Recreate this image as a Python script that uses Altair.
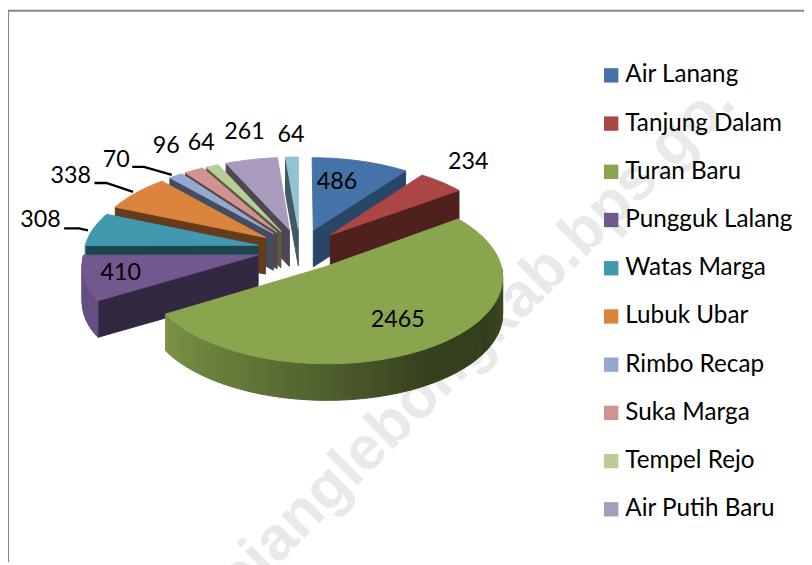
import numpy as np
import pandas as pd
import altair as alt

names = ["Air Lanang", "Tanjung Dalam", "Turan Baru", "Pungguk Lalang", "Watas Marga", "Lubuk Ubar",
         "Rimbo Recap", "Suka Marga", "Tempel Rejo", "Air Putih Baru", "Lainnya"]
values = [486, 234, 2465, 410, 308, 338, 70, 96, 64, 261, 64]
colors = ["#4572A7", "#AA4643", "#89A54E", "#71588F", "#4198AF", "#DB843D",
          "#93A9CF", "#D19392", "#B9CD96", "#A99BBD", "#92C3D5"]

W, H = 804, 557
CX, CY, RX, RY, PERSP, EXPL, DEPTH = 295, 241, 175, 84, 0.10, 0.25, 37


def project(x, y):
    p = 1 / (1 + PERSP * y)
    return CX + RX * x * p, CY - RY * y * p


def shade(col, f):
    r, g, b = [int(col[i:i + 2], 16) for i in (1, 3, 5)]
    return "#%02x%02x%02x" % (int(r * f), int(g * f), int(b * f))


def feature(points, fill):
    ring = [[float(a), float(b)] for a, b in points]
    ring.append(ring[0])
    return {"type": "Feature", "geometry": {"type": "Polygon", "coordinates": [ring]},
            "properties": {"fill": fill}}


total = sum(values)
edges = np.concatenate([[0], np.cumsum(values)]) / total * 360
mids = (edges[:-1] + edges[1:]) / 2
features = []
for i in sorted(range(len(values)), key=lambda k: -np.cos(np.radians(mids[k]))):
    t1, t2, m = edges[i], edges[i + 1], np.radians(mids[i])
    ox, oy = EXPL * np.sin(m), EXPL * np.cos(m)
    tip = project(ox, oy)
    rim = lambda d: project(ox + np.sin(np.radians(d)), oy + np.cos(np.radians(d)))
    down = lambda q: (q[0], q[1] + DEPTH)
    wall = shade(colors[i], 0.62 if i == 0 else 0.46)
    for d, normal in ((t1, t1 - 90), (t2, t2 + 90)):
        if np.cos(np.radians(normal)) < 0:
            q = rim(d)
            features.append(feature([tip, q, down(q), down(tip)], wall))
    a, b = max(t1, 90), min(t2, 270)
    if a < b:
        steps = np.linspace(a, b, max(2, int((b - a) / 1.5) + 1))
        for s, e in zip(steps[:-1], steps[1:]):
            f = np.interp((s + e) / 2, [90, 120, 150, 180, 210, 240, 270], [.50, .38, .40, .58, .75, .90, .92])
            features.append(feature([rim(s), rim(e), down(rim(e)), down(rim(s))], shade(colors[i], f)))
    arc = [rim(d) for d in np.linspace(t1, t2, max(3, int(t2 - t1) + 2))]
    features.append(feature([tip] + arc, colors[i]))

pie = alt.Chart(alt.Data(values=features)).mark_geoshape(strokeWidth=1).encode(
    fill=alt.Fill("properties.fill:N", scale=None),
    stroke=alt.Stroke("properties.fill:N", scale=None),
).project(type="identity", scale=1, translate=[0, 0])

sx = alt.Scale(domain=[0, W], range=[0, W])
sy = alt.Scale(domain=[0, H], range=[0, H])

# label placements relative to each slice's outer rim midpoint
label_offsets = [(-24, 21), (27, -20), (-36, -26), (37, -5), (-53, -9), (-66, -17),
                 (-60, -16), (-28, -24), (-11, -23), (-7, -28), (-1, -22)]
leaders = {4: ((24, 8), (39, 8), (-5, 1)), 5: ((24, 7), (36, 7), (-3, -1)), 6: ((16, 7), (28, 7), (-4, -1))}

rows, lines = [], []
for i, v in enumerate(values):
    m = np.radians(mids[i])
    rx_, ry_ = project((1 + EXPL) * np.sin(m), (1 + EXPL) * np.cos(m))
    lx, ly = rx_ + label_offsets[i][0], ry_ + label_offsets[i][1]
    rows.append({"x": lx, "y": ly, "t": str(v)})
    if i in leaders:
        a, b, c = leaders[i]
        for o, pt in enumerate([(lx + a[0], ly + a[1]), (lx + b[0], ly + b[1]), (rx_ + c[0], ry_ + c[1])]):
            lines.append({"x": pt[0], "y": pt[1], "o": o, "s": i})

labels = alt.Chart(pd.DataFrame(rows)).mark_text(font="Lato", fontSize=23.5, color="black").encode(
    x=alt.X("x:Q", scale=sx, axis=None), y=alt.Y("y:Q", scale=sy, axis=None), text="t:N")
leader = alt.Chart(pd.DataFrame(lines)).mark_line(color="black", strokeWidth=2.4).encode(
    x=alt.X("x:Q", scale=sx, axis=None), y=alt.Y("y:Q", scale=sy, axis=None), order="o:Q", detail="s:N")

watermark = alt.Chart(pd.DataFrame({"x": [737], "y": [95], "t": ["rejanglebongkab.bps.go."]})).mark_text(
    font="Liberation Sans", fontWeight="bold", fontSize=62, color="#e9e9e9", angle=315, align="right", baseline="alphabetic",
    limit=2000
).encode(x=alt.X("x:Q", scale=sx, axis=None), y=alt.Y("y:Q", scale=sy, axis=None), text="t:N")

frame_top = alt.Chart(pd.DataFrame({"a": [0]})).mark_rule(color="#868686", strokeWidth=2).encode(
    x=alt.value(0), x2=alt.value(W), y=alt.value(0))
frame_left = alt.Chart(pd.DataFrame({"a": [0]})).mark_rule(color="#868686", strokeWidth=2).encode(
    x=alt.value(0), y=alt.value(0), y2=alt.value(H))

legend_df = pd.DataFrame({"name": names[:10]})
legend = alt.Chart(legend_df).mark_square(size=0).encode(
    color=alt.Color("name:N", sort=None, scale=alt.Scale(domain=names[:10], range=colors[:10]),
                    legend=alt.Legend(orient="none", legendX=597, legendY=53, title=None, symbolType="square",
                                      symbolSize=210, symbolStrokeWidth=0, labelFont="Lato", labelFontSize=24.5,
                                      labelColor="black", rowPadding=23.7, labelOffset=2, labelLimit=300,
                                      symbolOpacity=1)))

chart = alt.layer(watermark, frame_top, frame_left, pie, leader, labels, legend).properties(
    width=W, height=H, padding=0, autosize=alt.AutoSizeParams(type="none")
).configure_view(stroke=None)
chart.save("out.html", embed_options={"renderer": "svg", "actions": False})
